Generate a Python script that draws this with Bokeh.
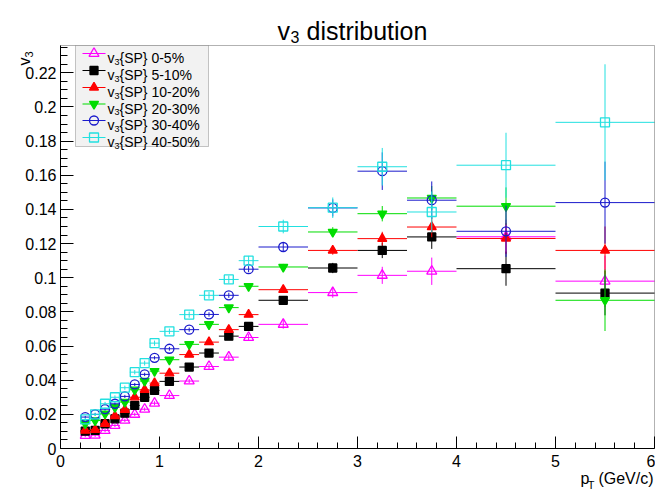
import numpy as np
from bokeh.plotting import figure
from bokeh.models import FixedTicker, CustomJSTickFormatter, Label, BoxAnnotation, Range1d
from bokeh.embed import file_html
from bokeh.resources import INLINE

# ---------------- data ----------------
edges = [0.2, 0.3, 0.4, 0.5, 0.6, 0.7, 0.8, 0.9, 1.0, 1.2, 1.4, 1.6, 1.8, 2.0,
         2.5, 3.0, 3.5, 4.0, 5.0, 6.0]

v3_0_5 = [0.0076, 0.0078, 0.0105, 0.0135, 0.0165, 0.0200, 0.0230, 0.0265, 0.0310,
          0.0395, 0.0480, 0.0535, 0.0650, 0.0727, 0.0913, 0.1014, 0.1038, 0.1240, 0.0980]
e3_0_5 = [0.0010, 0.0010, 0.0010, 0.0010, 0.0010, 0.0010, 0.0010, 0.0012, 0.0012,
          0.0012, 0.0015, 0.0015, 0.0020, 0.0025, 0.0030, 0.0050, 0.0080, 0.0100, 0.0150]

v3_5_10 = [0.0102, 0.0106, 0.0145, 0.0174, 0.0207, 0.0252, 0.0300, 0.0340, 0.0393,
           0.0477, 0.0559, 0.0658, 0.0715, 0.0868, 0.1057, 0.1160, 0.1239, 0.1053, 0.0910]
e3_5_10 = [0.0008, 0.0008, 0.0008, 0.0008, 0.0009, 0.0009, 0.0010, 0.0010, 0.0010,
           0.0011, 0.0012, 0.0014, 0.0016, 0.0020, 0.0030, 0.0045, 0.0070, 0.0100, 0.0130]

v3_10_20 = [0.0105, 0.0110, 0.0145, 0.0190, 0.0227, 0.0300, 0.0344, 0.0383, 0.0441,
            0.0550, 0.0623, 0.0696, 0.0784, 0.0930, 0.1160, 0.1229, 0.1297, 0.1230, 0.1160]
e3_10_20 = [0.0006, 0.0006, 0.0006, 0.0006, 0.0007, 0.0007, 0.0008, 0.0008, 0.0008,
            0.0009, 0.0010, 0.0011, 0.0013, 0.0016, 0.0025, 0.0040, 0.0060, 0.0090, 0.0140]

v3_20_30 = [0.0146, 0.0164, 0.0203, 0.0242, 0.0272, 0.0344, 0.0395, 0.0453, 0.0520,
            0.0610, 0.0727, 0.0825, 0.0950, 0.1063, 0.1268, 0.1375, 0.1467, 0.1419, 0.0868]
e3_20_30 = [0.0006, 0.0006, 0.0006, 0.0007, 0.0007, 0.0008, 0.0008, 0.0009, 0.0009,
            0.0010, 0.0011, 0.0012, 0.0014, 0.0018, 0.0028, 0.0045, 0.0070, 0.0110, 0.0180]

v3_30_40 = [0.0184, 0.0200, 0.0230, 0.0262, 0.0305, 0.0375, 0.0434, 0.0531, 0.0584,
            0.0696, 0.0785, 0.0897, 0.1050, 0.1180, 0.1409, 0.1624, 0.1454, 0.1272, 0.1440]
e3_30_40 = [0.0007, 0.0007, 0.0008, 0.0008, 0.0009, 0.0009, 0.0010, 0.0010, 0.0011,
            0.0012, 0.0013, 0.0015, 0.0018, 0.0025, 0.0050, 0.0110, 0.0110, 0.0150, 0.0240]

v3_40_50 = [0.0170, 0.0200, 0.0262, 0.0300, 0.0356, 0.0447, 0.0500, 0.0617, 0.0686,
            0.0784, 0.0897, 0.0990, 0.1100, 0.1300, 0.1410, 0.1650, 0.1385, 0.1659, 0.1910]
e3_40_50 = [0.0010, 0.0010, 0.0011, 0.0011, 0.0012, 0.0013, 0.0014, 0.0015, 0.0016,
            0.0018, 0.0020, 0.0023, 0.0028, 0.0040, 0.0060, 0.0110, 0.0120, 0.0190, 0.0340]

centralities = ["0-5%", "5-10%", "10-20%", "20-30%", "30-40%", "40-50%"]

x_ticks = [0, 1, 2, 3, 4, 5, 6]
y_ticks = [0, 0.02, 0.04, 0.06, 0.08, 0.10, 0.12, 0.14, 0.16, 0.18, 0.20, 0.22]

# ---------------- geometry (canvas pixels) ----------------
W, H = 655, 493
FL, FR, FT, FB = 60, 654, 45, 448          # visible plot box
XMAX, YMAX = 6.0, 0.236
FONT = "Liberation Sans"
sx_ = XMAX / (FR - FL)
sy_ = YMAX / (FB - FT)

def dx(px):
    return (px - FL) * sx_

def dy(py):
    return (FB - py) * sy_

p = figure(width=W, height=H, output_backend="svg", toolbar_location=None,
           tools="", title=None,
           x_range=Range1d(dx(0), dx(W)), y_range=Range1d(dy(H), dy(0)),
           min_border_left=0, min_border_right=0, min_border_top=0,
           min_border_bottom=0)
p.background_fill_color = "white"
p.border_fill_color = "white"
p.outline_line_color = None
p.xgrid.visible = False
p.ygrid.visible = False

minor_x = [round(0.2 * i, 1) for i in range(31) if i % 5 != 0]
minor_y = [round(0.005 * i, 3) for i in range(48) if i % 4 != 0]
p.xaxis.ticker = FixedTicker(ticks=x_ticks, minor_ticks=minor_x)
p.yaxis.ticker = FixedTicker(ticks=y_ticks, minor_ticks=minor_y)
p.yaxis.formatter = CustomJSTickFormatter(
    code="return tick.toFixed(2).replace(/0+$/,'').replace(/\\.$/,'');")
p.xaxis.fixed_location = 0
p.yaxis.fixed_location = 0
p.xaxis.bounds = (0, XMAX)
p.yaxis.bounds = (0, YMAX)

for ax in (p.xaxis, p.yaxis):
    ax.axis_line_color = "black"
    ax.major_tick_line_color = "black"
    ax.minor_tick_line_color = "black"
    ax.major_tick_out = 0
    ax.minor_tick_out = 0
    ax.major_label_text_font = FONT
    ax.major_label_text_font_size = "16px"
    ax.major_label_text_color = "black"
p.xaxis.major_tick_in = 12
p.xaxis.minor_tick_in = 6
p.yaxis.major_tick_in = 13
p.yaxis.minor_tick_in = 7
p.xaxis.major_label_standoff = 6
p.yaxis.major_label_standoff = 4

# frame box (top / right edges)
p.add_layout(BoxAnnotation(left=0, right=XMAX, bottom=0, top=YMAX,
                           fill_color=None, line_color="black", line_width=1))

# ---------------- series ----------------
series = [
    (v3_0_5, e3_0_5, "#ff00ff", "triangle", False, 10),
    (v3_5_10, e3_5_10, "black", "square", True, 8),
    (v3_10_20, e3_10_20, "#ff0000", "triangle", True, 9),
    (v3_20_30, e3_20_30, "#00dd00", "inverted_triangle", True, 9),
    (v3_30_40, e3_30_40, "#1a1acc", "circle", False, 9),
    (v3_40_50, e3_40_50, "#22e0e0", "square", False, 9),
]

lo = np.array(edges[:-1])
hi = np.array(edges[1:])
xc = (lo + hi) / 2

for vals, errs, col, mk, filled, sz in series:
    v = np.array(vals)
    e = np.array(errs)
    p.segment(x0=lo, x1=hi, y0=v, y1=v, line_color=col, line_width=1)
    p.segment(x0=xc, x1=xc, y0=v - e, y1=v + e, line_color=col, line_width=1)
    p.scatter(x=xc, y=v, marker=mk, size=sz, line_color=col, line_width=1.3,
              fill_color=col if filled else None)

# ---------------- text helper ----------------
def lab(text, px, py, size, align="left", angle=0.0, color="black"):
    p.add_layout(Label(x=dx(px), y=dy(py), text=text, text_font=FONT,
                       text_font_size=f"{size}px", text_align=align,
                       text_baseline="alphabetic", angle=angle, text_color=color))

# title  "v_3 distribution"
lab("v", 277, 30, 25)
lab("3", 290, 36, 16)
lab("distribution", 306, 30, 25)

# y-axis title  "v_3" rotated
lab("v", 24, 65, 16, angle=np.pi / 2)
lab("3", 28, 57, 11, angle=np.pi / 2)

# x-axis title  "p_T (GeV/c)"
lab("(GeV/c)", 653, 478, 16, align="right")
lab("T", 594, 484, 11, align="right")
lab("p", 589, 478, 16, align="right")

# ---------------- legend ----------------
p.add_layout(BoxAnnotation(left=dx(75), right=dx(208), top=dy(45), bottom=dy(146),
                           fill_color="#f2f2f2", fill_alpha=1.0,
                           line_color="#444444", line_width=1))

rows = [53, 70, 87, 103.5, 120, 137]
for (vals, errs, col, mk, filled, sz), name, ry in zip(series, centralities, rows):
    r1 = p.segment(x0=[dx(82)], x1=[dx(105)], y0=[dy(ry)], y1=[dy(ry)],
                   line_color=col, line_width=1)
    r2 = p.scatter(x=[dx(93.5)], y=[dy(ry)], marker=mk, size=sz, line_color=col,
                   line_width=1.3, fill_color=col if filled else None)
    r1.level = "overlay"
    r2.level = "overlay"
    lab("v", 107, ry + 4.5, 14)
    lab("3", 114, ry + 8, 9)
    lab("{SP} " + name, 119, ry + 4.5, 14)

open("out.html", "w").write(file_html(p, INLINE))
